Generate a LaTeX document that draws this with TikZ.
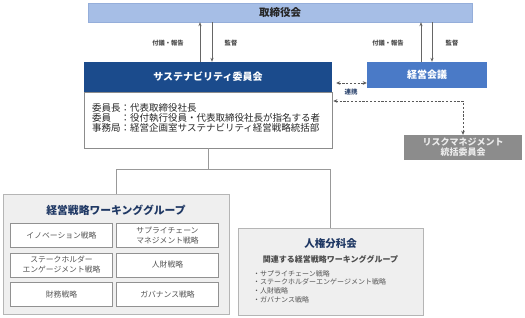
\documentclass[tikz,border=0pt]{standalone}
\usepackage{fontspec}
\setmainfont{Noto Sans CJK JP}
\usetikzlibrary{arrows.meta}
\definecolor{boardblue}{HTML}{A6BEE6}
\definecolor{boardedge}{HTML}{95AEDA}
\definecolor{navy}{HTML}{1B4B8C}
\definecolor{midblue}{HTML}{4A7AC7}
\definecolor{riskgray}{HTML}{8C8C8C}
\definecolor{panel}{HTML}{EFEFEF}
\definecolor{edge}{HTML}{B5B5B5}
\definecolor{txtgray}{HTML}{555555}
\definecolor{titlenavy}{HTML}{1F3864}
\tikzset{
  solidbox/.style={draw=none, inner sep=0pt, text=white},
  panelbox/.style={draw=edge, fill=panel, line width=0.8pt, inner sep=0pt},
  wgbox/.style={draw=edge!80!black, fill=white, line width=0.8pt, minimum width=102pt, minimum height=24pt, align=center, text=txtgray, font=\fontsize{7.8}{10}\selectfont, inner sep=0pt},
  arr/.style={draw=black!60, line width=0.7pt, -{Stealth[length=4pt,width=3.2pt]}},
  dasharr/.style={draw=black!65, line width=0.9pt, dash pattern=on 2.2pt off 1.6pt, {Stealth[length=4pt,width=3.6pt]}-{Stealth[length=4pt,width=3.6pt]}},
  conn/.style={draw=black!40, line width=0.7pt},
  lbl/.style={text=black!70, font=\bfseries\fontsize{6.3}{7}\selectfont, inner sep=0pt}
}
\begin{document}
\begin{tikzpicture}[x=1pt,y=-1pt]
\useasboundingbox (0,0) rectangle (525,318);
% board
\node[draw=boardedge, fill=boardblue, minimum width=384pt, minimum height=19pt, inner sep=0pt, font=\bfseries\fontsize{10.5}{11}\selectfont, text=black!85] (board) at (280,12.5) {取締役会};
% sustainability committee
\node[solidbox, fill=navy, minimum width=248pt, minimum height=30pt, font=\bfseries\fontsize{10}{11}\selectfont] (sus) at (208,77) {サステナビリティ委員会};
\node[draw=black!45, fill=white, line width=0.7pt, minimum width=248pt, minimum height=56pt, inner sep=0pt] (body) at (208,120) {};
\node[anchor=north west, align=left, inner sep=0pt, text=black!85, font=\fontsize{9.5}{10}\selectfont] (bodytxt) at (92,103.5) {委員長：代表取締役社長\\委員　：役付執行役員・代表取締役社長が指名する者\\事務局：経営企画室サステナビリティ経営戦略統括部};
% keiei kaigi
\node[solidbox, fill=midblue, minimum width=120pt, minimum height=26pt, font=\bfseries\fontsize{10}{11}\selectfont] (kk) at (427,75) {経営会議};
% risk
\node[solidbox, fill=riskgray, minimum width=118pt, minimum height=25pt, align=center, font=\bfseries\fontsize{9}{10}\selectfont, text=white!92!black] (risk) at (463,147.5) {リスクマネジメント\\統括委員会};
% arrows board <-> sus / kk
\coordinate (xa) at (200,0); \coordinate (xb) at (212,0);
\coordinate (xc) at (421,0); \coordinate (xd) at (432,0);
\draw[arr] (sus.north -| xa) -- (board.south -| xa);
\draw[arr] (board.south -| xb) -- (sus.north -| xb);
\draw[arr] (kk.north -| xc) -- (board.south -| xc);
\draw[arr] (board.south -| xd) -- (kk.north -| xd);
\node[lbl] (l1) at (168,43) {付議・報告};
\node[lbl] (l2) at (231,43) {監督};
\node[lbl] (l3) at (388,43) {付議・報告};
\node[lbl] (l4) at (452,43) {監督};
% dashed links
\coordinate (ya) at (0,83); \coordinate (yb) at (0,101);
\draw[dasharr] ([xshift=4pt]ya -| sus.east) -- (ya -| kk.west);
\node[text=titlenavy!90, font=\bfseries\fontsize{6.5}{7}\selectfont, inner sep=0pt] (rk) at (351,92) {連携};
\draw[dasharr] ([xshift=1pt]yb -| body.east) -- (yb -| risk.north) -- (risk.north);
% working group panel
\node[panelbox, minimum width=226pt, minimum height=120pt] (wg) at (116,254) {};
\node[text=titlenavy, font=\bfseries\fontsize{10.8}{11}\selectfont, inner sep=0pt] (wgt) at (116,210) {経営戦略ワーキンググループ};
\node[wgbox] (w1) at (61.5,235.5) {イノベーション戦略};
\node[wgbox] (w2) at (167.5,235.5) {サプライチェーン\\マネジメント戦略};
\node[wgbox] (w3) at (61.5,265) {ステークホルダー\\エンゲージメント戦略};
\node[wgbox] (w4) at (167.5,265) {人財戦略};
\node[wgbox] (w5) at (61.5,294.5) {財務戦略};
\node[wgbox] (w6) at (167.5,294.5) {ガバナンス戦略};
% human rights
\node[panelbox, minimum width=185pt, minimum height=87pt] (jk) at (330.5,271.5) {};
\node[text=titlenavy, font=\bfseries\fontsize{10.5}{11}\selectfont, inner sep=0pt] (jkt) at (330.5,244) {人権分科会};
\node[text=black!70, font=\bfseries\fontsize{8}{9}\selectfont, inner sep=0pt] (jks) at (330.5,259) {関連する経営戦略ワーキンググループ};
\node[anchor=north west, align=left, inner sep=0pt, text=txtgray, font=\fontsize{7}{8.8}\selectfont] (jkl) at (253,270) {・サプライチェーン戦略\\・ステークホルダーエンゲージメント戦略\\・人財戦略\\・ガバナンス戦略};
% tree connectors
\coordinate (yc) at (0,169);
\draw[conn] (body.south) -- (body.south |- yc);
\draw[conn] (wg.north) -- (wg.north |- yc) -- (jk.north |- yc) -- (jk.north);
\end{tikzpicture}
\end{document}
